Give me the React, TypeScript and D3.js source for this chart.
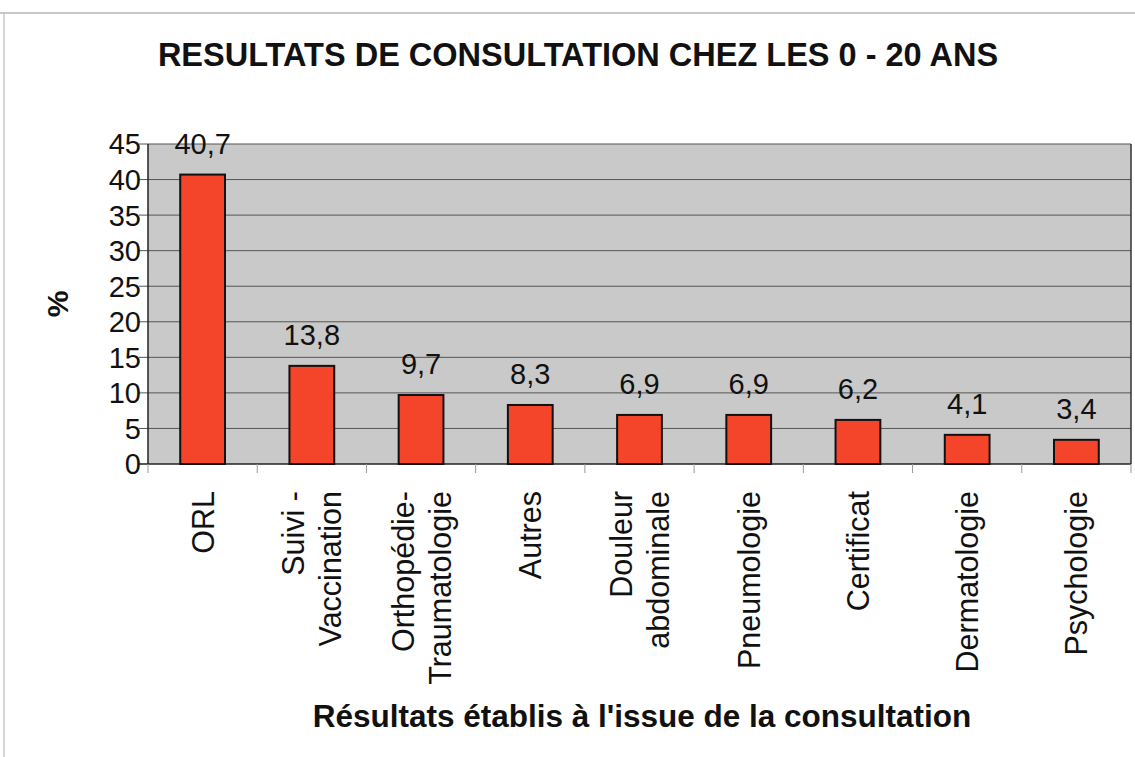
import React, { useEffect, useRef } from "react";
import * as d3 from "d3";

const categories: string[][] = [
  ["ORL"],
  ["Suivi -", "Vaccination"],
  ["Orthopédie-", "Traumatologie"],
  ["Autres"],
  ["Douleur", "abdominale"],
  ["Pneumologie"],
  ["Certificat"],
  ["Dermatologie"],
  ["Psychologie"],
];
const values: number[] = [40.7, 13.8, 9.7, 8.3, 6.9, 6.9, 6.2, 4.1, 3.4];
const yTicks: number[] = [0, 5, 10, 15, 20, 25, 30, 35, 40, 45];
const title = "RESULTATS DE CONSULTATION CHEZ LES 0 - 20 ANS";
const xTitle = "Résultats établis à l'issue de la consultation";
const yTitle = "%";

const W = 1135;
const H = 757;
const M = { left: 148, right: 1131, top: 144, bottom: 464 };
const FONT = "Arial, 'Liberation Sans', Helvetica, sans-serif";

export default function App() {
  const ref = useRef<SVGSVGElement>(null);
  useEffect(() => {
    const svg = d3.select(ref.current);
    svg.selectAll("*").remove();
    const keys = categories.map((_, i) => String(i));
    const x = d3.scaleBand<string>().domain(keys).range([M.left, M.right]).paddingInner(0).paddingOuter(0);
    const y = d3.scaleLinear().domain([0, 45]).range([M.bottom, M.top]);

    svg.append("rect").attr("width", W).attr("height", H).attr("fill", "#ffffff");
    // scan artifacts
    svg.append("line").attr("x1", 0).attr("x2", W).attr("y1", 13).attr("y2", 13)
      .attr("stroke", "#b5b5b5").attr("stroke-width", 1.5);
    svg.append("line").attr("x1", 4).attr("x2", 4).attr("y1", 13).attr("y2", H)
      .attr("stroke", "#c8c8c8").attr("stroke-width", 1.5);

    svg.append("text").attr("x", 578).attr("y", 66).attr("text-anchor", "middle")
      .attr("font-family", FONT).attr("font-weight", "bold").attr("font-size", 32.5)
      .attr("fill", "#111").text(title);

    // plot area
    svg.append("rect").attr("x", M.left).attr("y", M.top)
      .attr("width", M.right - M.left).attr("height", M.bottom - M.top)
      .attr("fill", "#c9c9c9");

    // gridlines & ticks
    const g = svg.append("g");
    yTicks.forEach((t) => {
      g.append("line").attr("x1", M.left - 9).attr("x2", M.right)
        .attr("y1", y(t)).attr("y2", y(t))
        .attr("stroke", t === 0 ? "#222" : "#555").attr("stroke-width", t === 0 ? 1.5 : 1);
      g.append("text").attr("x", M.left - 7).attr("y", y(t)).attr("dy", "0.36em")
        .attr("text-anchor", "end").attr("font-family", FONT).attr("font-size", 29)
        .attr("fill", "#111").text(String(t));
    });
    // axes borders
    g.append("line").attr("x1", M.left).attr("x2", M.left).attr("y1", M.top).attr("y2", M.bottom)
      .attr("stroke", "#222").attr("stroke-width", 1.5);
    g.append("line").attr("x1", M.right).attr("x2", M.right).attr("y1", M.top).attr("y2", M.bottom)
      .attr("stroke", "#333").attr("stroke-width", 1.5);

    // category tick marks
    const bw = x.bandwidth();
    for (let i = 0; i <= keys.length; i++) {
      const xv = M.left + i * bw;
      g.append("line").attr("x1", xv).attr("x2", xv).attr("y1", M.bottom).attr("y2", M.bottom + 9)
        .attr("stroke", "#999").attr("stroke-width", 1);
    }

    // bars
    const barW = bw * 0.41;
    keys.forEach((k, i) => {
      const cx = (x(k) as number) + bw / 2;
      g.append("rect").attr("x", cx - barW / 2).attr("y", y(values[i]))
        .attr("width", barW).attr("height", y(0) - y(values[i]))
        .attr("fill", "#f4442a").attr("stroke", "#111").attr("stroke-width", 2);
      g.append("text").attr("x", cx).attr("y", y(values[i]) - 21)
        .attr("text-anchor", "middle").attr("font-family", FONT).attr("font-size", 29)
        .attr("fill", "#111").text(String(values[i]).replace(".", ","));
      const lines = categories[i];
      const sp = 37;
      lines.forEach((ln, j) => {
        const lx = cx + (j - (lines.length - 1) / 2) * sp;
        g.append("text")
          .attr("transform", `translate(${lx},491) rotate(-90)`)
          .attr("text-anchor", "end").attr("dy", "0.36em")
          .attr("font-family", FONT).attr("font-size", 30.5).attr("fill", "#111")
          .text(ln);
      });
    });

    svg.append("text").attr("x", 642).attr("y", 727).attr("text-anchor", "middle")
      .attr("font-family", FONT).attr("font-weight", "bold").attr("font-size", 31.5)
      .attr("fill", "#111").text(xTitle);
    svg.append("text").attr("transform", `translate(57,304) rotate(-90)`)
      .attr("text-anchor", "middle").attr("dy", "0.36em")
      .attr("font-family", FONT).attr("font-weight", "bold").attr("font-size", 30)
      .attr("fill", "#111").text(yTitle);
  }, []);
  return (
    <svg ref={ref} width={W} height={H}
      style={{ position: "absolute", left: 0, top: 0, display: "block" }} />
  );
}
